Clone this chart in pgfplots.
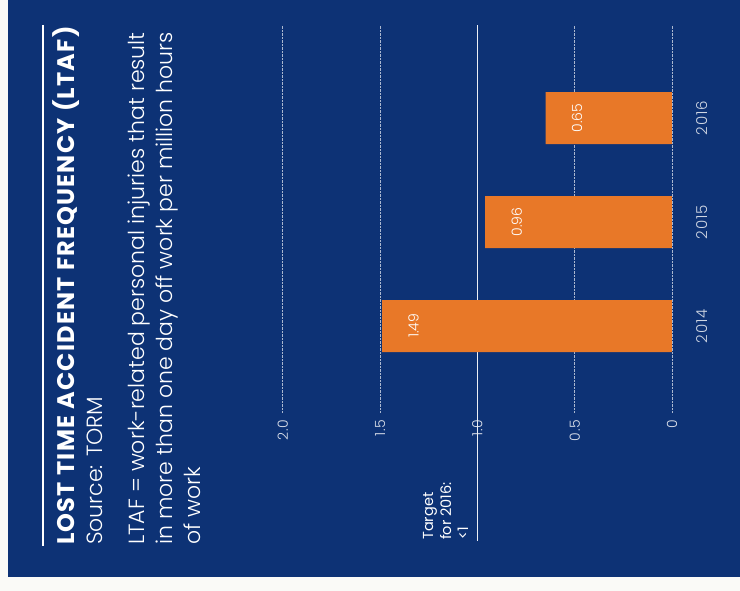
\documentclass[border=0pt]{standalone}
\usepackage{pgfplots}
\pgfplotsset{compat=1.18}
\usepackage{fontspec}
\setmainfont{Poppins}
\newfontfamily\light{Poppins Light}
\newfontfamily\titlefont{Poppins}[LetterSpace=5]
\newfontfamily\lightsp{Poppins Light}[LetterSpace=6]
\definecolor{bg}{RGB}{13,50,117}
\definecolor{barc}{RGB}{232,120,40}
\definecolor{paper}{RGB}{250,250,247}
\begin{document}
\begin{tikzpicture}[x=1pt,y=1pt]
\fill[paper] (0,0) rectangle (740,-591);
\fill[bg] (8,0) rectangle (740,-577);
\draw[white, line width=2pt] (43,-25) -- (43,-546);
\node[rotate=90, anchor=base west, inner sep=0, text=white, font=\titlefont\bfseries\fontsize{24}{28}\selectfont] at (74,-545) {LOST TIME ACCIDENT FREQUENCY (LTAF)};
\node[rotate=90, anchor=base west, inner sep=0, text=white, font=\light\fontsize{22}{26}\selectfont] at (102,-545) {Source: TORM};
\node[rotate=90, anchor=base west, inner sep=0, text=white, font=\light\fontsize{22}{26}\selectfont] at (144,-545) {LTAF = work-related personal injuries that result};
\node[rotate=90, anchor=base west, inner sep=0, text=white, font=\light\fontsize{22}{26}\selectfont] at (172,-545) {in more than one day off work per million hours};
\node[rotate=90, anchor=base west, inner sep=0, text=white, font=\light\fontsize{22}{26}\selectfont] at (200,-545) {of work};
\node[rotate=90, anchor=base west, inner sep=0, text=white, font=\fontsize{14.5}{17}\selectfont] at (433,-540) {Target};
\node[rotate=90, anchor=base west, inner sep=0, text=white, font=\fontsize{14.5}{17}\selectfont] at (451,-540) {for 2016:};
\node[rotate=90, anchor=base west, inner sep=0, text=white, font=\fontsize{14.5}{17}\selectfont] at (468,-540) {<1};
\begin{axis}[
  at={(672pt,-326pt)}, anchor=origin,
  x=194.6pt, y=104pt, x dir=reverse,
  xmin=0, xmax=2, ymin=-0.83, ymax=2.894,
  xbar, bar width=52pt,
  axis line style={draw=none}, major tick length=0pt,
  xtick={0,0.5,1,1.5,2}, xticklabels={0,0.5,1.0,1.5,2.0},
  ytick=\empty,
  xmajorgrids, grid style={white!65!bg, densely dotted, line width=0.9pt},
  xticklabel style={rotate=90, anchor=east, text=white!85!bg, font=\lightsp\fontsize{14}{16}\selectfont},
  xticklabel shift=4pt,
  /pgf/number format/assume math mode=true,
  clip=false,
]
\draw[white!92!bg, line width=1.5pt] (axis cs:1,2.894) -- (axis cs:1,-2.065);
\addplot[fill=barc, draw=none] coordinates {(1.49,0) (0.96,1) (0.65,2)};
\node[rotate=90, text=white, font=\light\fontsize{14}{16}\selectfont] at (axis cs:1.328,0) {1.49};
\node[rotate=90, text=white, font=\light\fontsize{14}{16}\selectfont] at (axis cs:0.798,1) {0.96};
\node[rotate=90, text=white, font=\light\fontsize{14}{16}\selectfont] at (axis cs:0.488,2) {0.65};
\node[rotate=90, text=white!80!bg, font=\lightsp\fontsize{15}{17}\selectfont] at (axis cs:-0.152,0) {2014};
\node[rotate=90, text=white!80!bg, font=\lightsp\fontsize{15}{17}\selectfont] at (axis cs:-0.152,1) {2015};
\node[rotate=90, text=white!80!bg, font=\lightsp\fontsize{15}{17}\selectfont] at (axis cs:-0.152,2) {2016};
\end{axis}
\end{tikzpicture}
\end{document}
